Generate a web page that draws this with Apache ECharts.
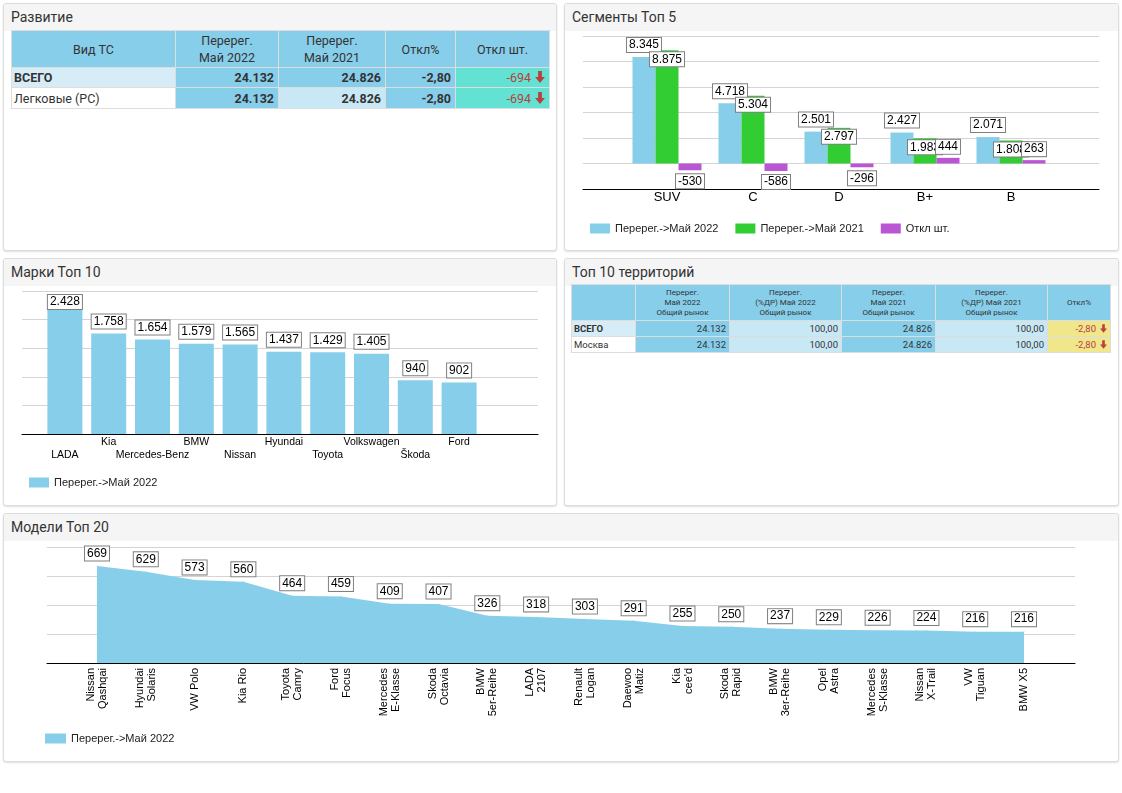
<!DOCTYPE html>
<html><head><meta charset="utf-8">
<script src="https://cdn.jsdelivr.net/npm/echarts@6/dist/echarts.min.js"></script>
<style>
body{margin:0;width:1122px;height:793px;background:#fff;font-family:Roboto,Arial,sans-serif;position:relative;overflow:hidden}
.panel{position:absolute;border:1px solid #dcdcdc;border-radius:3px;box-shadow:0 1px 2px rgba(0,0,0,0.13);background:#fff;box-sizing:border-box}
.hdr{height:27px;line-height:27px;background:#f5f5f5;padding-left:7px;font-size:14px;color:#333;border-radius:3px 3px 0 0}
table{position:absolute;border-collapse:collapse;table-layout:fixed;color:#333}
td{border:1px solid #ddd;padding:0;overflow:hidden;white-space:nowrap}
#t1 td{font-size:12.5px}
#t1 .h td{text-align:center;line-height:17px;background:#87ceeb}
#t1 .n{text-align:right;padding-right:4px;font-weight:bold}
#t2 td{font-size:9.5px}
#t2 .h td{text-align:center;font-size:8px;line-height:10px;background:#87ceeb}
#t2 .n{text-align:right;padding-right:3px}
.red{color:#b8403d}
.arr{margin-left:4px;vertical-align:-1px}
#chart{position:absolute;left:0;top:0;width:1122px;height:793px}
</style></head>
<body>
<div class="panel" style="left:3px;top:3px;width:554px;height:248px"><div class="hdr">Развитие</div></div>
<div class="panel" style="left:564px;top:3px;width:555px;height:248px"><div class="hdr">Сегменты Топ 5</div></div>
<div class="panel" style="left:3px;top:258px;width:554px;height:248px"><div class="hdr">Марки Топ 10</div></div>
<div class="panel" style="left:564px;top:258px;width:555px;height:248px"><div class="hdr">Топ 10 территорий</div></div>
<div class="panel" style="left:3px;top:513px;width:1116px;height:249px"><div class="hdr">Модели Топ 20</div></div>
<table id="t1" style="left:11px;top:30px;width:538px"></table>
<table id="t2" style="left:571px;top:284px;width:539px"></table>
<div id="chart"></div>
<script>
// ---- Table 1: Развитие ----
const t1Header = ['Вид ТС', 'Перерег.<br>Май 2022', 'Перерег.<br>Май 2021', 'Откл%', 'Откл шт.'];
const t1Rows = ['ВСЕГО', 'Легковые (РС)'];
const t1May2022 = [24132, 24132];
const t1May2021 = [24826, 24826];
const t1Pct = [-2.80, -2.80];
const t1Diff = [-694, -694];

// ---- Table 2: Топ 10 территорий ----
const t2Header = ['', 'Перерег.<br>Май 2022<br>Общий рынок', 'Перерег.<br>(%ДР) Май 2022<br>Общий рынок', 'Перерег.<br>Май 2021<br>Общий рынок', 'Перерег.<br>(%ДР) Май 2021<br>Общий рынок', 'Откл%'];
const t2Rows = ['ВСЕГО', 'Москва'];
const t2May2022 = [24132, 24132];
const t2Share2022 = [100, 100];
const t2May2021 = [24826, 24826];
const t2Share2021 = [100, 100];
const t2Pct = [-2.80, -2.80];

// ---- Segments ----
const segCats = ['SUV', 'C', 'D', 'B+', 'B'];
const seg2022 = [8345, 4718, 2501, 2427, 2071];
const seg2021 = [8875, 5304, 2797, 1983, 1808];
const segDiff = [-530, -586, -296, 444, 263];

// ---- Brands ----
const brandCats = ['LADA', 'Kia', 'Mercedes-Benz', 'BMW', 'Nissan', 'Hyundai', 'Toyota', 'Volkswagen', 'Škoda', 'Ford'];
const brand2022 = [2428, 1758, 1654, 1579, 1565, 1437, 1429, 1405, 940, 902];

// ---- Models ----
const modelCats = ['Nissan Qashqai', 'Hyundai Solaris', 'VW Polo', 'Kia Rio', 'Toyota Camry', 'Ford Focus', 'Mercedes E-Klasse', 'Skoda Octavia', 'BMW 5er-Reihe', 'LADA 2107', 'Renault Logan', 'Daewoo Matiz', "Kia cee'd", 'Skoda Rapid', 'BMW 3er-Reihe', 'Opel Astra', 'Mercedes S-Klasse', 'Nissan X-Trail', 'VW Tiguan', 'BMW X5'];
const model2022 = [669, 629, 573, 560, 464, 459, 409, 407, 326, 318, 303, 291, 255, 250, 237, 229, 226, 224, 216, 216];

const fmt = v => (v < 0 ? '-' : '') + Math.round(Math.abs(v)).toString().replace(/\B(?=(\d{3})+(?!\d))/g, '.');
const fmtDec = v => v.toFixed(2).replace('.', ',');
const arrow = (w, h) => '<svg class="arr" width="' + w + '" height="' + h + '" viewBox="0 0 9 11"><path d="M2.8 0h3.4v5.6h2.8L4.5 11 0 5.6h2.8z" fill="#b8403d"/></svg>';

// build table 1
(function(){
  const SKY = '#87ceeb', LIGHT = '#c9e8f5', ROW0 = '#d6edf7', TURQ = '#63e2d3';
  const w = [164, 103, 107, 70, 94];
  let h = '<colgroup>' + w.map(x => '<col style="width:' + x + 'px">').join('') + '</colgroup>';
  h += '<tr class="h" style="height:37px">' + t1Header.map(x => '<td>' + x + '</td>').join('') + '</tr>';
  t1Rows.forEach((r, i) => {
    const first = i === 0;
    h += '<tr style="height:' + (first ? 20 : 21) + 'px">' +
      '<td style="padding-left:2px;background:' + (first ? ROW0 : '#fff') + ';' + (first ? 'font-weight:bold' : '') + '">' + r + '</td>' +
      '<td class="n" style="background:' + SKY + '">' + fmt(t1May2022[i]) + '</td>' +
      '<td class="n" style="background:' + (first ? SKY : LIGHT) + '">' + fmt(t1May2021[i]) + '</td>' +
      '<td class="n" style="background:' + SKY + '">' + fmtDec(t1Pct[i]) + '</td>' +
      '<td class="n red" style="background:' + TURQ + ';font-weight:normal">' + fmt(t1Diff[i]) + arrow(10, 12) + '</td></tr>';
  });
  document.getElementById('t1').innerHTML = h;
})();
// build table 2
(function(){
  const SKY = '#87ceeb', LIGHT = '#c9e8f5', ROW0 = '#d6edf7', KHAKI = '#f0e68c';
  const w = [64, 94, 112, 94, 112, 63];
  let h = '<colgroup>' + w.map(x => '<col style="width:' + x + 'px">').join('') + '</colgroup>';
  h += '<tr class="h" style="height:36px">' + t2Header.map(x => '<td>' + x + '</td>').join('') + '</tr>';
  t2Rows.forEach((r, i) => {
    const first = i === 0;
    h += '<tr style="height:16px">' +
      '<td style="padding-left:2px;background:' + (first ? ROW0 : '#fff') + ';' + (first ? 'font-weight:bold' : '') + '">' + r + '</td>' +
      '<td class="n" style="background:' + SKY + '">' + fmt(t2May2022[i]) + '</td>' +
      '<td class="n" style="background:' + LIGHT + '">' + fmtDec(t2Share2022[i]) + '</td>' +
      '<td class="n" style="background:' + SKY + '">' + fmt(t2May2021[i]) + '</td>' +
      '<td class="n" style="background:' + LIGHT + '">' + fmtDec(t2Share2021[i]) + '</td>' +
      '<td class="n red" style="background:' + KHAKI + '">' + fmtDec(t2Pct[i]) + arrow(7, 9) + '</td></tr>';
  });
  document.getElementById('t2').innerHTML = h;
})();

const FONT = '"Liberation Sans", Arial, sans-serif';
const BLUE = '#87CEEB', GREEN = '#32CD32', PURPLE = '#BA55D3';
const boxLabel = (extra) => Object.assign({
  show: true, formatter: p => fmt(p.value), fontSize: 12, fontFamily: FONT, color: '#000',
  backgroundColor: '#fff', borderColor: '#808080', borderWidth: 1, padding: [1, 2], lineHeight: 12
}, extra);
const gridLineY = (g, min, max, interval) => ({
  gridIndex: g, type: 'value', min, max, interval,
  axisLabel: { show: false }, axisLine: { show: false }, axisTick: { show: false },
  splitLine: { show: true, lineStyle: { color: '#d4d4d4', width: 1 } }
});
const hiddenY = (g, min, max, interval) => ({ gridIndex: g, type: 'value', min, max, interval, show: false });
const baseX = g => ({
  gridIndex: g, type: 'value', min: 0, max: 1,
  axisLine: { show: true, onZero: false, lineStyle: { color: '#000', width: 1 } },
  axisTick: { show: false }, axisLabel: { show: false }, splitLine: { show: false }
});
const legendText = { fontSize: 11, color: '#222', fontFamily: FONT };

const brandMax = Math.max(...brand2022);

const option = {
  animation: false,
  textStyle: { fontFamily: FONT },
  grid: [
    { left: 583, top: 36, width: 516, height: 153, outerBoundsMode: 'none' },
    { left: 624, top: 36, width: 430, height: 153, outerBoundsMode: 'none' },
    { left: 22, top: 291, width: 516, height: 143, outerBoundsMode: 'none' },
    { left: 43, top: 291, width: 438, height: 143, outerBoundsMode: 'none' },
    { left: 47, top: 547, width: 1028, height: 116, outerBoundsMode: 'none' },
    { left: 97, top: 547, width: 927, height: 116, outerBoundsMode: 'none' }
  ],
  xAxis: [
    baseX(0),
    { gridIndex: 1, type: 'category', data: segCats, axisLine: { show: false, onZero: false }, axisTick: { show: false },
      axisLabel: { fontSize: 13, color: '#000', margin: 2, fontFamily: FONT } },
    baseX(2),
    { gridIndex: 3, type: 'category', data: brandCats, axisLine: { show: false, onZero: false }, axisTick: { show: false },
      axisLabel: { interval: 0, fontSize: 10.5, color: '#000', margin: 2, lineHeight: 13, fontFamily: FONT,
        formatter: (v, i) => (i % 2 === 0 ? '\n' + v : v) } },
    baseX(4),
    { gridIndex: 5, type: 'category', data: modelCats, boundaryGap: false, axisLine: { show: false, onZero: false }, axisTick: { show: false },
      axisLabel: { interval: 0, rotate: 90, fontSize: 11, color: '#000', margin: 5, lineHeight: 12, fontFamily: FONT,
        formatter: v => (v.length > 8 ? v.replace(' ', '\n') : v) } }
  ],
  yAxis: [
    gridLineY(0, -2000, 10000, 2000), hiddenY(1, -2000, 10000, 2000),
    gridLineY(2, 0, 2500, 500), hiddenY(3, 0, 2500, 500),
    gridLineY(4, 0, 800, 200), hiddenY(5, 0, 800, 200)
  ],
  legend: [
    { data: ['Перерег.->Май 2022', 'Перерег.->Май 2021', 'Откл шт.'], left: 585, top: 218, icon: 'rect',
      itemWidth: 20, itemHeight: 10, itemGap: 17, selectedMode: false, textStyle: legendText },
    { data: ['Перерег.->Май 2022'], left: 24, top: 472, icon: 'rect', itemWidth: 20, itemHeight: 10, selectedMode: false,
      textStyle: legendText },
    { data: ['Перерег.->Май 2022'], left: 40, top: 728, icon: 'rect', itemWidth: 21, itemHeight: 10, selectedMode: false,
      textStyle: legendText }
  ],
  series: [
    { name: 'Перерег.->Май 2022', type: 'bar', xAxisIndex: 1, yAxisIndex: 1, data: seg2022, barWidth: 23, barGap: '0%',
      itemStyle: { color: BLUE }, label: boxLabel({ position: 'top', distance: 5 }) },
    { name: 'Перерег.->Май 2021', type: 'bar', xAxisIndex: 1, yAxisIndex: 1, data: seg2021, barWidth: 23, barGap: '0%',
      itemStyle: { color: GREEN }, label: boxLabel({ position: 'insideTop', distance: 2 }) },
    { name: 'Откл шт.', type: 'bar', xAxisIndex: 1, yAxisIndex: 1, barWidth: 23, barGap: '0%',
      data: segDiff.map(v => ({ value: v, label: { position: v < 0 ? 'bottom' : 'top' } })),
      itemStyle: { color: PURPLE }, label: boxLabel({ distance: 4 }) },
    { name: 'Перерег.->Май 2022', type: 'bar', xAxisIndex: 3, yAxisIndex: 3, barWidth: 35,
      data: brand2022.map(v => ({ value: v, label: { position: v > 0.95 * brandMax ? 'insideTop' : 'top', distance: v > 0.95 * brandMax ? 0 : 5 } })),
      itemStyle: { color: BLUE }, label: boxLabel({}) },
    { name: 'Перерег.->Май 2022', type: 'line', xAxisIndex: 5, yAxisIndex: 5, data: model2022, smooth: false,
      symbol: 'circle', symbolSize: 1, itemStyle: { color: BLUE }, lineStyle: { width: 0, color: BLUE },
      areaStyle: { color: BLUE, opacity: 1 }, label: boxLabel({ position: 'top', distance: 5 }) }
  ]
};
const chart = echarts.init(document.getElementById('chart'), null, { renderer: 'canvas' });
chart.setOption(option);
</script>
</body></html>
